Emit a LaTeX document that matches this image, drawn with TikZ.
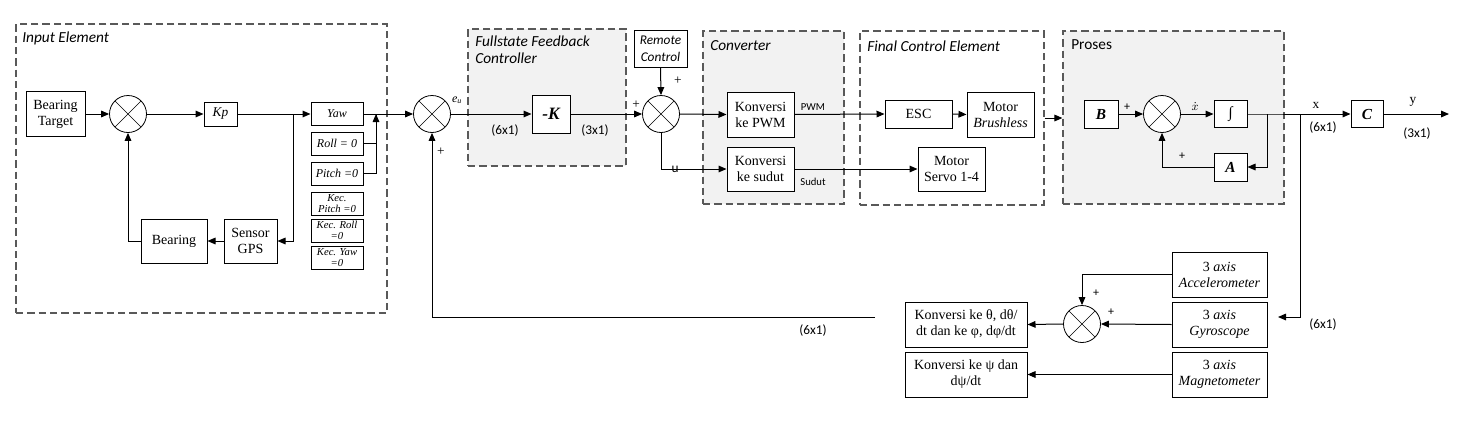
\documentclass[tikz,border=0pt]{standalone}
\usepackage{fontspec}
\setmainfont{Liberation Serif}
\newfontfamily\calib{Carlito}
\usetikzlibrary{arrows.meta,calc}
\tikzset{
 blk/.style={draw, line width=0.75pt, fill=white, inner sep=0pt, align=center, font=\fontsize{10.5}{12}\selectfont},
 sz/.style 2 args={minimum width=#1*0.75pt, minimum height=#2*0.75pt},
 sumj/.style={draw, circle, fill=white, line width=0.6pt, minimum size=37*0.75pt, inner sep=0pt,
   path picture={\draw[line width=0.5pt] (path picture bounding box.north west) -- (path picture bounding box.south east)
     (path picture bounding box.north east) -- (path picture bounding box.south west);}},
 grp/.style={draw=black!65, dash pattern=on 5.5pt off 3pt, line width=0.9pt, inner sep=0pt},
 grpf/.style={grp, fill=black!5},
 ttl/.style={font=\calib\itshape\fontsize{11.5}{13}\selectfont, anchor=west, inner sep=0pt, align=left},
 arr/.style={-{Triangle[length=6pt,width=5pt]}, line width=0.75pt},
 ln/.style={line width=0.75pt},
 dimlab/.style={font=\calib\fontsize{10}{12}\selectfont, inner sep=0pt},
 smb/.style={font=\fontsize{9}{9.5}\selectfont\itshape},
 smk/.style={font=\fontsize{8}{8.5}\selectfont\itshape},
 pl/.style={font=\fontsize{10}{12}\selectfont, inner sep=0pt},
 plc/.style={font=\calib\fontsize{9}{10}\selectfont, inner sep=0pt},
 bi/.style={font=\fontsize{11.5}{13}\selectfont\bfseries\itshape},
}
\begin{document}
\begin{tikzpicture}[x=0.75pt,y=-0.75pt]
\useasboundingbox (0,0) rectangle (1466,443);
% group boxes
\node[grp, sz={371}{289}] (inp) at (201.5,168.5) {};
\node[grpf, sz={158}{137}] (ffc) at (547,97.5) {};
\node[grpf, sz={141}{173}] (conv) at (773.5,117.5) {};
\node[grp, sz={184}{174}] (fce) at (952,118) {};
\node[grpf, sz={221}{173}] (pro) at (1173.5,117.5) {};
\node[ttl] (tinp) at (22,38) {Input Element};
\node[ttl] (tffc) at (475,50) {Fullstate Feedback\\Controller};
\node[ttl] (tconv) at (710,46) {Converter};
\node[ttl] (tfce) at (867,46) {Final Control Element};
\node[ttl, font=\calib\fontsize{11.5}{13}\selectfont] (tpro) at (1071,45) {Proses};
% input element
\node[blk, sz={59}{45}] (bt) at (55.5,114) {Bearing\\Target};
\node[sumj] (s1) at (128,114) {};
\node[blk, sz={33}{24}, font=\fontsize{10}{11}\selectfont\itshape] (kp) at (220.5,114) {Kp};
\node[blk, sz={52}{23}, smb] (yaw) at (337,114) {Yaw};
\node[blk, sz={52}{23}, smb] (roll) at (337,143.5) {Roll = 0};
\node[blk, sz={52}{23}, smb] (pitch) at (337,173.5) {Pitch =0};
\node[blk, sz={52}{23}, smk] (kpitch) at (337,203.5) {Kec.\\Pitch =0};
\node[blk, sz={52}{23}, smk] (kroll) at (337,230.5) {Kec. Roll\\=0};
\node[blk, sz={52}{23}, smk] (kyaw) at (337,257.5) {Kec. Yaw\\=0};
\node[blk, sz={53}{44}] (gps) at (250.5,241) {Sensor\\GPS};
\node[blk, sz={66}{44}] (bear) at (174,241) {Bearing};
% controller
\node[sumj] (s2) at (432,114) {};
\node[blk, sz={38}{38}, font=\fontsize{13}{15}\selectfont\bfseries\itshape] (k) at (551,114) {-K};
\node[sumj] (s3) at (661,114) {};
\node[blk, sz={53}{37}, font=\calib\itshape\fontsize{10}{12.5}\selectfont] (rc) at (660.5,48.5) {Remote\\Control};
% converter
\node[blk, sz={67}{45}] (kpwm) at (760.5,114.5) {Konversi\\ke PWM};
\node[blk, sz={67}{44}] (ksud) at (760.5,169) {Konversi\\ke sudut};
% final control element
\node[blk, sz={67}{28}] (esc) at (918.5,114) {ESC};
\node[blk, sz={67}{45}] (mb) at (1000.5,114.5) {Motor\\\textit{Brushless}};
\node[blk, sz={67}{44}] (servo) at (951.5,169) {Motor\\Servo 1-4};
% proses
\node[blk, sz={34}{28}, bi] (b) at (1101,114) {B};
\node[sumj] (s4) at (1162,114) {};
\node[blk, sz={33}{27}, bi] (int) at (1230.5,114) {∫};
\node[blk, sz={33}{28}, bi] (a) at (1230.5,167) {A};
\node[blk, sz={32}{27}, bi] (c) at (1367,114) {C};
% sensors
\node[blk, sz={95}{45}] (acc) at (1219.5,274.5) {3 \textit{axis}\\\textit{Accelerometer}};
\node[blk, sz={95}{45}] (gyro) at (1219.5,324.5) {3 \textit{axis}\\\textit{Gyroscope}};
\node[blk, sz={95}{45}] (mag) at (1219.5,374.5) {3 \textit{axis}\\\textit{Magnetometer}};
\node[sumj] (s5) at (1082,324) {};
\node[blk, sz={122}{45}] (kth) at (966,324.5) {Konversi ke θ, dθ/\\dt dan ke φ, dφ/dt};
\node[blk, sz={122}{45}] (kpsi) at (966,374.5) {Konversi ke ψ dan\\dψ/dt};
% coordinates
\coordinate (br1) at (293,114);
\coordinate (jn) at (376,114);
\coordinate (br2) at (1267,114);
\coordinate (br3) at (1300,114);
\coordinate (yout) at (1449,114);
\coordinate (sensin) at (1278,317);
\coordinate (fb) at (875,317);
% connectors input element
\draw[arr] (bt.east) -- (s1.west);
\draw[arr] (s1.east) -- (kp.west);
\draw[ln] (kp.east) -- (br1);
\draw[arr] (br1) -- (yaw.west);
\draw[arr] (br1) |- (gps.east);
\draw[arr] (gps.west) -- (bear.east);
\draw[arr] (bear.west) -| (s1.south);
\draw[ln] (roll.east) -| (jn);
\draw[arr] (pitch.east) -| (jn);
\draw[arr] (yaw.east) -- (s2.west);
% controller
\draw[arr] (s2.east) -- (k.west);
\draw[arr] (k.east) -- (s3.west);
\draw[arr] (rc.south) -- (s3.north);
\draw[arr] (s3.east) -- (kpwm.west);
\draw[arr] (s3.south) |- (ksud.west);
\draw[arr] (fb) -| (s2.south);
% converter / fce
\draw[arr] (kpwm.east) -- (esc.west);
\draw[arr] (esc.east) -- (mb.west);
\draw[arr] (ksud.east) -- (servo.west);
\draw[arr] (fce.east) -- (fce.east -| pro.west);
% proses
\draw[arr] (b.east) -- (s4.west);
\draw[arr] (s4.east) -- (int.west);
\draw[ln] (int.east) -- (br2) -- (br3);
\draw[arr] (br2) |- (a.east);
\draw[arr] (a.west) -| (s4.south);
\draw[arr] (br3) -- (c.west);
\draw[arr] (c.east) -- (yout);
\draw[arr] (br3) |- (sensin);
% sensors
\draw[arr] (acc.west) -| (s5.north);
\draw[arr] (gyro.west) -- (s5.east);
\draw[arr] (s5.west) -- (kth.east);
\draw[arr] (mag.west) -- (kpsi.east);
% labels
\node[pl] (p1) at (441,152) {+};
\node[inner sep=0pt, font=\fontsize{9}{10}\selectfont] (eu) at (457,100) {\textit{e}\textsubscript{\textit{u}}};
\node[dimlab] (d1) at (505,131) {(6x1)};
\node[dimlab] (d2) at (595,131) {(3x1)};
\node[pl] (p2) at (636,105) {+};
\node[pl] (p3) at (678,81) {+};
\node[plc, font=\calib\fontsize{10}{12}\selectfont] (lu) at (675,169) {u};
\node[plc, font=\calib\fontsize{8}{9}\selectfont] (lpwm) at (813,107) {PWM};
\node[plc, font=\calib\fontsize{8}{9}\selectfont] (lsud) at (813,182) {Sudut};
\node[plc] (p4) at (1127,107) {+};
\node[plc] (p5) at (1182,156) {+};
\node[inner sep=0pt, font=\fontsize{9}{10}\selectfont] (xd) at (1195,106) {$\dot{x}$};
\node[pl] (lx) at (1316,105) {x};
\node[dimlab] (d3) at (1323,128) {(6x1)};
\node[pl] (ly) at (1413,102) {y};
\node[dimlab] (d4) at (1417,134) {(3x1)};
\node[dimlab] (d5) at (1323,325) {(6x1)};
\node[dimlab] (d6) at (813,331) {(6x1)};
\node[plc] (p6) at (1096,293) {+};
\node[plc] (p7) at (1111,312) {+};
\end{tikzpicture}
\end{document}
